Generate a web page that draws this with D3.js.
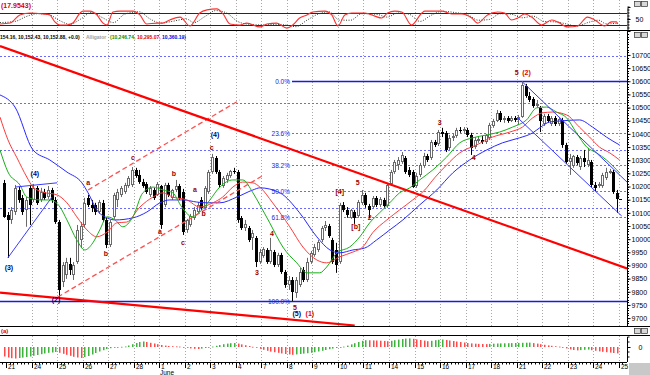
<!DOCTYPE html>
<html><head><meta charset="utf-8">
<script src="https://cdn.jsdelivr.net/npm/d3@7"></script>
<style>body{margin:0;background:#fff;}svg{display:block;font-family:Arial,"Liberation Sans",sans-serif;}</style>
</head><body><svg id="c" width="650" height="375"></svg>
<script>
// ---------- DATA ----------
const days = ["21","24","25","26","27","28","1","2","3","4","7","8","9","10","11","14","15","16","17","18","21","22","23","24","25"];
const monthLabel = {day:6, text:"June"};
const priceTicks = [10700,10650,10600,10550,10500,10450,10400,10350,10300,10250,10200,10150,10100,10050,10000,9950,9900,9850,9800,9750,9700];
const open = [10214,10092,10073,10103,10187,10157,10111,10195,10149,10195,
10149,10179,10160,10187,10149,10065,9837,9864,9906,9864,
9913,9997,10054,10157,10130,10130,10103,10138,10073,9978,
10085,10149,10168,10179,10202,10206,10263,10244,10217,10210,
10168,10187,10168,10202,10130,10206,10157,10187,10202,10179,
10035,10054,10081,10103,10149,10119,10179,10255,10309,10255,
10202,10225,10240,10259,10255,10081,10043,10043,10005,10005,
9913,9936,9959,9913,9951,9902,9940,9875,9826,9845,
9796,9826,9883,9845,9913,9940,9959,9997,10043,10050,
9997,9959,9913,10130,10111,10081,10103,10088,10138,10168,
10126,10122,10157,10130,10149,10126,10210,10255,10282,10293,
10309,10263,10255,10202,10244,10278,10316,10309,10369,10362,
10407,10404,10347,10385,10392,10415,10411,10415,10396,10350,
10373,10377,10369,10385,10430,10449,10480,10453,10461,10449,
10461,10453,10464,10582,10544,10533,10506,10499,10438,10468,
10438,10461,10438,10453,10358,10293,10278,10312,10274,10309,
10282,10293,10206,10202,10202,10233,10255,10255,10176];
const high = [10225,10103,10122,10206,10198,10168,10160,10206,10210,10202,
10195,10191,10202,10195,10160,10073,9913,9929,9929,9913,
10054,10065,10157,10168,10149,10138,10149,10149,10081,10073,
10176,10191,10202,10214,10240,10274,10271,10263,10229,10217,
10202,10195,10217,10206,10214,10214,10191,10225,10210,10191,
10077,10096,10122,10141,10160,10202,10263,10324,10316,10263,
10240,10252,10263,10271,10263,10088,10073,10050,10035,10012,
9963,9970,9966,10005,9959,9948,9948,9883,9860,9856,
9856,9891,9894,9929,9955,9982,9997,10050,10069,10058,
10005,9986,10138,10141,10122,10115,10111,10149,10187,10176,
10134,10164,10164,10160,10157,10214,10263,10301,10312,10331,
10316,10274,10263,10252,10290,10328,10324,10377,10377,10415,
10423,10411,10396,10400,10423,10426,10426,10423,10404,10388,
10388,10392,10400,10442,10457,10491,10487,10468,10468,10468,
10468,10472,10601,10590,10559,10540,10529,10506,10476,10476,
10468,10468,10464,10461,10366,10324,10320,10320,10316,10339,
10347,10301,10217,10217,10252,10271,10267,10263,10187];
const low = [10081,9929,10058,10092,10138,10092,10047,10054,10141,10130,
10141,10149,10153,10138,10058,9780,9818,9849,9864,9845,
9906,9966,10043,10122,10103,10092,10096,10065,9966,9970,
10077,10122,10160,10172,10195,10198,10233,10210,10195,10172,
10160,10149,10164,10039,10122,10160,10149,10179,10149,10016,
10024,10047,10073,10096,10111,10111,10172,10248,10248,10195,
10195,10214,10233,10248,10062,10035,10031,9989,9959,9894,
9906,9929,9906,9906,9894,9894,9868,9815,9807,9765,
9777,9818,9837,9837,9906,9933,9951,9989,10031,10005,
9906,9872,9906,10103,10081,10077,10058,10081,10130,10119,
10081,10115,10122,10122,10119,10119,10202,10248,10263,10286,
10248,10236,10195,10195,10236,10271,10293,10301,10350,10354,
10388,10331,10339,10373,10385,10404,10404,10388,10320,10343,
10366,10362,10362,10377,10423,10445,10445,10442,10442,10445,
10445,10434,10461,10537,10521,10499,10499,10407,10430,10442,
10430,10430,10430,10347,10286,10244,10271,10282,10263,10274,
10274,10198,10183,10195,10195,10225,10248,10172,10100];
const close = [10085,10073,10111,10195,10149,10103,10149,10130,10195,10138,
10179,10157,10187,10149,10065,9807,9902,9913,9883,9902,
10035,10050,10138,10130,10119,10103,10141,10073,9978,10065,
10168,10179,10195,10206,10233,10263,10240,10217,10202,10179,
10195,10157,10210,10054,10206,10168,10187,10202,10157,10027,
10073,10088,10111,10130,10119,10195,10255,10312,10255,10206,
10233,10244,10259,10255,10073,10043,10058,9997,10024,9913,
9951,9963,9913,9959,9902,9940,9875,9826,9845,9799,
9845,9875,9845,9913,9948,9970,9989,10043,10054,10012,
9913,9902,10130,10111,10092,10111,10081,10141,10168,10130,
10111,10157,10130,10153,10126,10206,10255,10293,10301,10320,
10255,10244,10198,10240,10282,10316,10301,10369,10358,10407,
10400,10339,10385,10392,10415,10411,10419,10396,10347,10377,
10381,10369,10396,10434,10449,10480,10453,10461,10449,10461,
10453,10464,10586,10544,10529,10506,10514,10449,10468,10449,
10461,10438,10457,10358,10293,10309,10316,10290,10309,10293,
10301,10206,10195,10210,10244,10255,10259,10179,10153];
const lastPrice = 10152.88;
// Awesome oscillator histogram
const ao = [-95,-105,-112,-115,-110,-106,-100,-95,-88,-80,
-72,-65,-58,-55,-50,-58,-68,-78,-88,-98,
-105,-110,-100,-90,-75,-60,-45,-32,-20,-12,
-6,-2,2,5,15,28,40,50,55,50,
42,35,28,20,14,10,8,6,4,0,
-8,-14,-18,-20,-16,-10,-4,4,12,20,
28,34,38,40,34,26,18,10,2,-8,
-18,-28,-38,-46,-52,-58,-64,-70,-74,-78,
-74,-70,-66,-62,-58,-52,-45,-38,-30,-22,
-16,-10,-4,4,14,26,38,50,62,68,
67,66,65,63,61,58,62,68,74,80,
84,86,82,76,70,64,58,62,68,72,
75,70,65,60,55,50,45,40,36,33,
31,30,29,31,33,35,36,37,38,39,
40,41,42,43,44,39,34,28,22,16,
12,8,4,-4,-14,-24,-30,-34,-31,-28,
-26,-32,-38,-44,-48,-52,-56,-60,-64];
// Alligator lines [bar, price]
const jaw = [[-1.15,10548],[2.96,10502],[7.9,10339],[12.5,10301],[17.2,10255],[21.3,10214],[23,10176],[25.4,10111],[28.2,10081],[30.4,10073],[35.3,10081],[39.1,10103],[42.7,10138],[45.4,10149],[49,10149],[52.8,10141],[55.6,10138],[59.1,10138],[63.8,10160],[68.2,10187],[70.1,10195],[75.6,10176],[81,10100],[85.7,10009],[89.3,9959],[92,9948],[95.6,9959],[98.8,9966],[102.1,9997],[105.7,10035],[109.3,10073],[113.9,10130],[118.6,10187],[123,10252],[127.6,10301],[132.3,10339],[136.6,10366],[141.3,10385],[144.9,10404],[146.8,10423],[149.5,10445],[152.3,10449],[157.7,10453],[161.3,10426],[165.1,10388],[168.7,10358]];
const teeth = [[-1.15,10464],[1.04,10377],[3.5,10309],[6.2,10236],[7.9,10198],[10.6,10179],[14.5,10168],[17.2,10138],[19.9,10085],[22.7,10035],[25.4,10009],[28.2,10027],[30.9,10062],[33.6,10065],[37.2,10122],[40.8,10160],[43.5,10176],[46.2,10160],[50.1,10149],[53.6,10122],[57.2,10138],[59.9,10160],[62.7,10198],[65.4,10217],[68.2,10214],[70.1,10198],[73.6,10138],[78.3,10047],[81.9,9970],[85.7,9921],[88.4,9910],[92,9933],[95.6,9951],[98.3,9970],[101,10024],[104.9,10073],[108.4,10111],[112,10149],[115.3,10187],[118,10233],[121.3,10282],[124.9,10328],[129.5,10358],[133.9,10388],[138.6,10407],[142.1,10426],[144.9,10461],[147.6,10480],[150.4,10483],[154.2,10472],[157.7,10426],[160.5,10388],[163.2,10350],[166,10328],[168.7,10301]];
const lips = [[-1.15,10339],[1.04,10255],[4.3,10206],[6.2,10160],[9.8,10149],[12.5,10149],[15.3,10122],[17.2,10073],[19.9,9997],[22.1,9959],[24.3,9986],[26.2,10035],[28.2,10085],[30.4,10073],[32.5,10047],[35.3,10085],[38,10176],[40.8,10198],[43.5,10187],[46.2,10176],[48.7,10122],[51.5,10085],[53.6,10103],[56.4,10149],[59.1,10198],[62.7,10225],[65.4,10225],[68.2,10176],[70.1,10130],[72.8,10062],[76.4,9970],[80.2,9910],[83,9872],[86.5,9872],[88.4,9894],[91.2,9948],[94.7,9970],[97.5,10009],[100.2,10062],[102.9,10100],[105.7,10138],[108.4,10176],[111.2,10195],[113.9,10225],[117.5,10263],[121.3,10312],[124.9,10366],[128.4,10385],[132.3,10396],[135.8,10407],[139.4,10426],[143.2,10453],[146,10499],[148.7,10502],[151.4,10483],[154.2,10461],[156.9,10404],[159.7,10350],[162.4,10328],[165.1,10301],[168.7,10252]];
const headerVals = ["154.16, 10,152.43, 10,152.88, +0.0)","Alligator","(10,246.74,","10,295.07,","10,360.19)"];
// Stochastic-type oscillator [bar, value]
const oscK = [[-1.15,29],[1.6,33],[4.3,67],[7.1,75],[10.6,71],[12.5,67],[13.9,38],[15.3,25],[17.2,25],[18.8,33],[20.8,75],[21.6,83],[23.5,83],[25.4,67],[27.1,33],[28.2,25],[29.8,79],[31.7,83],[35.3,83],[37.2,67],[39.1,29],[41.9,33],[43.5,33],[45.4,46],[48.2,58],[50.9,21],[53.6,75],[55.6,88],[58.3,92],[60,71],[61.9,29],[64.6,25],[66.5,33],[70.1,17],[72,29],[74.7,33],[77.5,12],[79.1,25],[81,54],[83,67],[84.6,79],[87.9,83],[89.8,67],[91.5,21],[93.4,67],[95.3,75],[98.9,75],[101.6,62],[103.5,54],[105.1,75],[107.1,83],[109,79],[111.7,25],[114.5,75],[115.3,83],[120,83],[122.7,71],[125.4,71],[128.2,54],[129.8,33],[132.5,67],[135.3,79],[137.2,75],[139.1,46],[140.8,54],[142.7,71],[144.6,58],[147.3,25],[150.1,46],[151.7,38],[154.5,17],[157.2,21],[159.9,58],[161.9,46],[164.6,21],[166.5,38],[167.9,38],[168.2,29]];
const oscD = [[-1.15,35],[3,40],[6,60],[9,72],[12,70],[15,45],[18,28],[21,50],[24,78],[27,55],[30,35],[33,70],[37,80],[40,50],[43,33],[46,40],[50,50],[52,35],[55,60],[58,85],[61,75],[64,40],[67,28],[71,25],[74,28],[77,25],[80,18],[83,45],[86,70],[89,80],[92,45],[95,45],[98,72],[102,70],[105,58],[108,75],[111,70],[114,40],[117,65],[120,82],[124,76],[127,68],[130,45],[133,48],[136,72],[139,70],[142,55],[145,62],[148,40],[151,38],[154,30],[157,20],[160,35],[163,45],[165,30],[168,32]];
const oscLevels = [75,25];
const oscTitle = "(17.9543)";
// Fibonacci retracement and other levels
const fibLevels = [{label:"0.0%",v:10600},{label:"23.6%",v:10402},{label:"38.2%",v:10280},{label:"50.0%",v:10183},{label:"61.8%",v:10084},{label:"100.0%",v:9765}];
const otherLevels = [10696,10518,10339,10119];
// Trend lines [bar, price]
const redTrends = [[[-1.15,10734],[170.75,9889]],[[-1.15,9797],[96.1,9672]]];
const dashedTrends = [[[14.7,9780],[71.2,10244]],[[23,10187],[64.6,10529]]];
const blueTrends = [[[1,9929],[13.1,10160]],[[3,10198],[14.5,10214]],[[142.1,10597],[170.75,10217]],[[140.8,10461],[169.3,10088]]];
// Wave labels
const waveLabels = [
 {t:"(3)",b:1.3,p:9894,k:"n"},{t:"(4)",b:8.4,p:10248,k:"n"},{t:"(2)",b:14.2,p:9769,k:"n"},
 {t:"(4)",b:57.8,p:10396,k:"n"},{t:"(5)",b:80.2,p:9716,k:"n"},
 {t:"a",b:23,p:10217,k:"d"},{t:"b",b:27.9,p:9944,k:"d"},{t:"c",b:35.3,p:10312,k:"d"},
 {t:"a",b:42.7,p:10031,k:"d"},{t:"b",b:46.5,p:10248,k:"d"},{t:"c",b:49,p:9989,k:"d"},
 {t:"a",b:52.3,p:10187,k:"d"},{t:"b",b:54.7,p:10096,k:"d"},{t:"c",b:56.9,p:10347,k:"d"},
 {t:"3",b:69.3,p:9872,k:"d"},{t:"4",b:73.4,p:10020,k:"d"},{t:"5",b:79.7,p:9742,k:"d"},
 {t:"(1)",b:83.8,p:9716,k:"r"},{t:"[4]",b:92,p:10183,k:"d"},{t:"5",b:96.9,p:10217,k:"d"},
 {t:"[b]",b:96.4,p:10047,k:"d"},{t:"2",b:100.2,p:10081,k:"d"},{t:"3",b:119.4,p:10442,k:"d"},
 {t:"4",b:128.7,p:10312,k:"d"},{t:"5",b:140.5,p:10632,k:"d"},{t:"(2)",b:143.2,p:10632,k:"r"}];

// ---------- LAYOUT ----------
const svg = d3.select("#c");
const XR = 627;
const x = d3.scaleLinear().domain([-1.15,170.75]).range([0,XR]);
const y = d3.scaleLinear().domain([9670,10791]).range([326,31]);
const yO = d3.scaleLinear().domain([0,100]).range([31,7]);
const yA = d3.scaleLinear().domain([-150,110]).range([362,336]);
const barsPerDay = 7;

const defs = svg.append("defs");
defs.append("clipPath").attr("id","cm").append("rect").attr("x",0).attr("y",31).attr("width",XR).attr("height",295);
defs.append("clipPath").attr("id","co").append("rect").attr("x",0).attr("y",0).attr("width",XR).attr("height",30);
defs.append("clipPath").attr("id","ca").append("rect").attr("x",0).attr("y",336).attr("width",XR).attr("height",26);

const dayBars = days.map((d,k)=>0.5+barsPerDay*k);

// vertical dotted grid
[[0,30],[31,326],[336,362]].forEach(([a,b])=>{
  svg.append("g").selectAll("line").data(dayBars.slice(1)).join("line")
   .attr("x1",d=>Math.round(x(d))+0.5).attr("x2",d=>Math.round(x(d))+0.5)
   .attr("y1",a).attr("y2",b).attr("stroke","#a8a8a8").attr("stroke-dasharray","1,2");
});

// ---------- OSCILLATOR PANEL ----------
const go = svg.append("g").attr("clip-path","url(#co)");
go.selectAll("line.lv").data(oscLevels).join("line").attr("x1",0).attr("x2",XR)
  .attr("y1",d=>Math.round(yO(d))+0.5).attr("y2",d=>Math.round(yO(d))+0.5).attr("stroke","#1010e0").attr("stroke-width",1);
const lo = d3.line().x(d=>x(d[0])).y(d=>yO(d[1])).curve(d3.curveMonotoneX);
go.append("path").attr("d",lo(oscD)).attr("fill","none").attr("stroke","#2a3a2a").attr("stroke-width",1).attr("stroke-dasharray","1,1.5");
go.append("path").attr("d",lo(oscK)).attr("fill","none").attr("stroke","#ff3030").attr("stroke-width",1.1);
svg.append("text").attr("x",1).attr("y",8).attr("font-size",7).attr("font-weight","bold").attr("fill","#e00000").text(oscTitle);
const axO = svg.append("g").attr("transform",`translate(${XR+0.5},0)`).call(d3.axisRight(yO).tickValues([50]).tickSize(3).tickFormat(d3.format("d")));
axO.selectAll("text").attr("font-size",7).attr("font-family","Arial").attr("x",8);
axO.append("g").selectAll("line").data(d3.range(0,101,12.5)).join("line").attr("x1",0).attr("x2",2).attr("y1",d=>yO(d)).attr("y2",d=>yO(d)).attr("stroke","#000");

// ---------- MAIN PANEL ----------
const gm = svg.append("g").attr("clip-path","url(#cm)");
gm.selectAll("line.ol").data(otherLevels).join("line").attr("x1",0).attr("x2",XR)
  .attr("y1",d=>Math.round(y(d))+0.5).attr("y2",d=>Math.round(y(d))+0.5).attr("stroke","#6a6aff").attr("stroke-dasharray","2,2");
const fibX0 = 292;
fibLevels.forEach((f,i)=>{
  const yy = Math.round(y(f.v))+0.5;
  const solid = (i===0||i===fibLevels.length-1);
  gm.append("line").attr("x1", i===fibLevels.length-1?0:fibX0).attr("x2",XR).attr("y1",yy).attr("y2",yy)
    .attr("stroke", solid?"#1a1ae0":"#6a6aff").attr("stroke-width", solid?1.3:1).attr("stroke-dasharray", solid?null:"2,2");
  gm.append("text").attr("x",fibX0-2).attr("y",yy+2.5).attr("text-anchor","end").attr("font-size",6.5).attr("fill","#2020e0").text(f.label);
});

// candles
const gc = gm.append("g");
close.forEach((c,i)=>{
  const o=open[i], h=Math.max(high[i],o,c), l=Math.min(low[i],o,c);
  const up = c>=o, xr = Math.round(x(i));
  const col = up?"#6a6a6a":"#000";
  gc.append("line").attr("x1",xr+0.5).attr("x2",xr+0.5).attr("y1",y(h)).attr("y2",y(l)).attr("stroke",col);
  const yt = Math.round(y(Math.max(o,c))), yb = Math.round(y(Math.min(o,c)));
  if(up){
    gc.append("rect").attr("x",xr-0.5).attr("y",yt+0.5).attr("width",2).attr("height",Math.max(1,yb-yt-1)).attr("fill","#fff").attr("stroke",col);
  } else {
    gc.append("rect").attr("x",xr-1).attr("y",yt).attr("width",3).attr("height",Math.max(1,yb-yt)).attr("fill","#000");
  }
});
gm.append("line").attr("x1",Math.round(x(168))+2).attr("x2",Math.round(x(168))+5).attr("y1",Math.round(y(lastPrice))+0.5).attr("y2",Math.round(y(lastPrice))+0.5).attr("stroke","#000");

// alligator
const lm = d3.line().x(d=>x(d[0])).y(d=>y(d[1])).curve(d3.curveMonotoneX);
[[jaw,"#2828ff"],[teeth,"#ff3c3c"],[lips,"#18b018"]].forEach(([d,c])=>{
  gm.append("path").attr("d",lm(d)).attr("fill","none").attr("stroke",c).attr("stroke-width",1);
});
const ll = d3.line().x(d=>x(d[0])).y(d=>y(d[1]));
blueTrends.forEach(d=>gm.append("path").attr("d",ll(d)).attr("stroke","#3a3aff").attr("stroke-width",1).attr("fill","none"));
dashedTrends.forEach(d=>gm.append("path").attr("d",ll(d)).attr("stroke","#ff5050").attr("stroke-width",1.3).attr("stroke-dasharray","5,3").attr("fill","none"));
redTrends.forEach(d=>gm.append("path").attr("d",ll(d)).attr("stroke","#ff0000").attr("stroke-width",2.2).attr("fill","none"));

// wave labels
const lc = {n:"#00007a",d:"#9a0000",r:"#e00000"};
gm.selectAll("text.wl").data(waveLabels).join("text").attr("x",d=>x(d.b)).attr("y",d=>y(d.p)+2.5)
  .attr("text-anchor","middle").attr("font-size",7).attr("font-weight","bold").attr("fill",d=>lc[d.k]).text(d=>d.t);

// header
const hdr = [[0,"#000"],[86,"#a0a0a0"],[110,"#009000"],[137,"#e00000"],[162,"#0000e0"]];
hdr.forEach(([hx,col],i)=>{
  svg.append("text").attr("x",hx).attr("y",38.5).attr("font-size",5).attr("font-weight","bold").attr("fill",col).text(headerVals[i]);
});

// price axis
const axM = svg.append("g").attr("transform",`translate(${XR+0.5},0)`).call(d3.axisRight(y).tickValues(priceTicks).tickSize(3).tickFormat(d3.format("d")));
axM.select(".domain").attr("d",`M0,31V326`);
axM.selectAll("text").attr("font-size",7).attr("font-family","Arial").attr("x",4);
axM.append("g").selectAll("line").data(d3.range(9680,10790,10)).join("line").attr("x1",0).attr("x2",1.5)
  .attr("y1",d=>Math.round(y(d))+0.5).attr("y2",d=>Math.round(y(d))+0.5).attr("stroke","#000");

// ---------- THIN PANEL ----------
svg.append("text").attr("x",1).attr("y",333).attr("font-size",6).attr("font-weight","bold").attr("fill","#e00000").text("(a)");

// ---------- AO PANEL ----------
const ga = svg.append("g").attr("clip-path","url(#ca)");
ao.forEach((v,i)=>{
  const upc = i===0 ? false : v>ao[i-1];
  const xr = Math.round(x(i));
  ga.append("rect").attr("x",xr).attr("y",Math.min(yA(v),yA(0))).attr("width",1.5)
    .attr("height",Math.max(0.8,Math.abs(yA(v)-yA(0)))).attr("fill",upc?"#3cb43c":"#ff4848");
});
const axA = svg.append("g").attr("transform",`translate(${XR+0.5},0)`).call(d3.axisRight(yA).tickValues([0]).tickSize(3).tickFormat(d3.format("d")));
axA.selectAll("text").attr("font-size",7).attr("font-family","Arial").attr("x",11);
axA.select(".domain").attr("d","M0,337V362");
axA.append("g").selectAll("line").data([-100,-50,50,100]).join("line").attr("x1",0).attr("x2",2).attr("y1",d=>yA(d)).attr("y2",d=>yA(d)).attr("stroke","#000");

// ---------- X AXIS ----------
const gx = svg.append("g");
gx.append("line").attr("x1",0).attr("x2",XR).attr("y1",362.5).attr("y2",362.5).attr("stroke","#000");
gx.selectAll("line.mn").data(d3.range(-0.5,170,1)).join("line").attr("x1",d=>Math.round(x(d))+0.5).attr("x2",d=>Math.round(x(d))+0.5)
  .attr("y1",362).attr("y2",364.5).attr("stroke","#000");
gx.selectAll("line.mj").data(dayBars).join("line").attr("x1",d=>Math.round(x(d))+0.5).attr("x2",d=>Math.round(x(d))+0.5)
  .attr("y1",362).attr("y2",368).attr("stroke","#000");
gx.selectAll("text").data(days).join("text").attr("x",(d,k)=>Math.round(x(dayBars[k]))+2).attr("y",368.5)
  .attr("font-size",6.5).attr("fill","#000").text(d=>d);
svg.append("text").attr("x",Math.round(x(dayBars[monthLabel.day]))+1).attr("y",375).attr("font-size",6.5).attr("fill","#000").text(monthLabel.text);

// ---------- FRAME ----------
[30.5,326.5,335.5].forEach(yy=>svg.append("line").attr("x1",0).attr("x2",650).attr("y1",yy).attr("y2",yy).attr("stroke","#000").attr("stroke-width",1));
svg.append("rect").attr("x",629).attr("y",363).attr("width",21).attr("height",12).attr("fill","#c8c8c8");
[[1],[32],[328]].forEach(([yy])=>{
  [634,641].forEach(xx=>{
    svg.append("rect").attr("x",xx+0.5).attr("y",yy+0.5).attr("width",6).attr("height",5).attr("fill","#d8d8d8").attr("stroke","#333").attr("stroke-width",0.7);
  });
});
</script></body></html>
